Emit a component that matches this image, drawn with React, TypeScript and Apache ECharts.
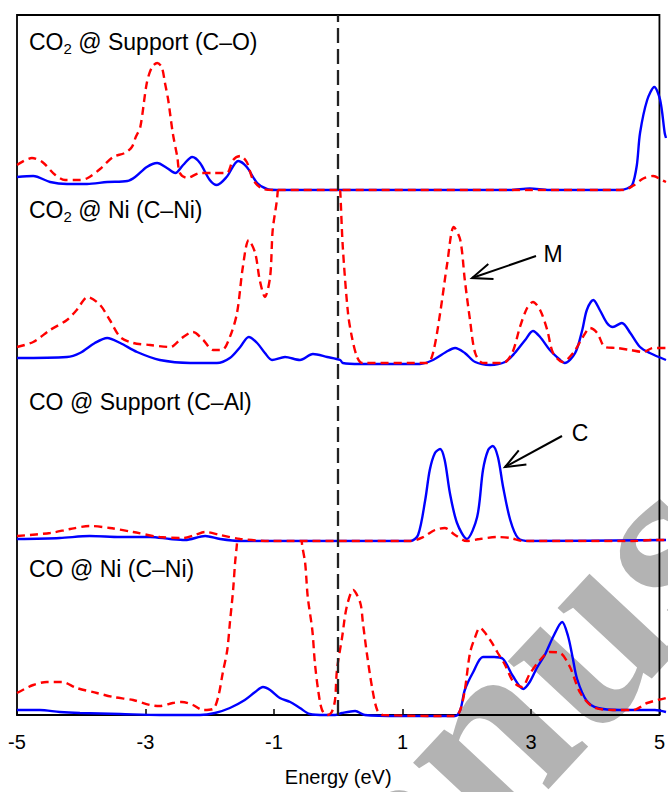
import React, { useEffect, useRef } from 'react';
import * as echarts from 'echarts';

// ---------- data (energy in eV, PDOS in arbitrary units) ----------
const energyTicks = [-5, -3, -1, 1, 3, 5];
const panelLabels = [
  'CO{s|2} @ Support (C\u2013O)',
  'CO{s|2} @ Ni (C\u2013Ni)',
  'CO @ Support (C\u2013Al)',
  'CO @ Ni (C\u2013Ni)',
];

// Panel 1: CO2 @ Support
const co2SupportC = [
  [-5, 0.27], [-4.75, 0.29], [-4.49, 0.17], [-4.23, 0.13], [-3.92, 0.13], [-3.61, 0.17],
  [-3.3, 0.19], [-3.18, 0.27], [-3.0, 0.47], [-2.84, 0.55], [-2.69, 0.45], [-2.56, 0.35],
  [-2.44, 0.51], [-2.3, 0.67], [-2.18, 0.55], [-2.03, 0.21], [-1.92, 0.11], [-1.77, 0.27],
  [-1.59, 0.59], [-1.46, 0.47], [-1.3, 0.15], [-1.15, 0.03], [-1.0, 0.01], [2.6, 0.01],
  [2.9, 0.04], [3.2, 0.01], [4.29, 0.01], [4.4, 0.04], [4.48, 0.11], [4.55, 0.5],
  [4.6, 1.15], [4.71, 1.81], [4.82, 2.07], [4.91, 1.81], [4.98, 1.15], [5.0, 1.05],
];
const co2SupportO = [
  [-5, 0.51], [-4.77, 0.65], [-4.61, 0.57], [-4.41, 0.31], [-4.26, 0.21], [-4.03, 0.21],
  [-3.91, 0.25], [-3.72, 0.43], [-3.52, 0.67], [-3.34, 0.75], [-3.23, 0.87], [-3.17, 1.07],
  [-3.1, 1.27], [-3.0, 2.15], [-2.92, 2.47], [-2.84, 2.55], [-2.77, 2.47], [-2.72, 2.15],
  [-2.67, 1.81], [-2.6, 1.15], [-2.53, 0.67], [-2.49, 0.35], [-2.38, 0.25], [-2.18, 0.35],
  [-1.98, 0.35], [-1.77, 0.35], [-1.67, 0.61], [-1.56, 0.69], [-1.46, 0.57], [-1.36, 0.21],
  [-1.21, 0.03], [-1.0, 0.01], [4.34, 0.01], [4.5, 0.1], [4.65, 0.24], [4.8, 0.29],
  [4.95, 0.2], [5.0, 0.17],
];

// Panel 2: CO2 @ Ni
const co2NiC = [
  [-5, 0.16], [-4.23, 0.18], [-4.03, 0.26], [-3.8, 0.46], [-3.61, 0.56], [-3.41, 0.46],
  [-3.15, 0.28], [-2.8, 0.12], [-2.33, 0.06], [-1.92, 0.06], [-1.72, 0.16], [-1.56, 0.38],
  [-1.43, 0.58], [-1.3, 0.46], [-1.18, 0.26], [-1.07, 0.12], [-0.87, 0.18], [-0.64, 0.12],
  [-0.44, 0.24], [-0.22, 0.18], [-0.02, 0.12], [0.02, 0.06], [0.29, 0.04], [1.21, 0.04],
  [1.41, 0.12], [1.61, 0.28], [1.75, 0.36], [1.9, 0.26], [2.06, 0.08], [2.29, 0.02],
  [2.52, 0.08], [2.67, 0.26], [2.83, 0.52], [2.95, 0.7], [3.06, 0.58], [3.21, 0.32],
  [3.37, 0.12], [3.44, 0.06], [3.6, 0.26], [3.71, 0.72], [3.78, 1.12], [3.88, 1.32],
  [3.98, 1.12], [4.09, 0.86], [4.18, 0.78], [4.32, 0.86], [4.45, 0.66], [4.6, 0.38],
  [4.75, 0.26], [5.0, 0.12],
];
const co2NiNi = [
  [-5, 0.38], [-4.75, 0.48], [-4.49, 0.72], [-4.23, 0.92], [-4.08, 1.12], [-3.91, 1.38],
  [-3.72, 1.22], [-3.57, 0.92], [-3.41, 0.58], [-3.21, 0.46], [-2.95, 0.42], [-2.64, 0.38],
  [-2.46, 0.56], [-2.29, 0.68], [-2.13, 0.52], [-1.98, 0.32], [-1.84, 0.32], [-1.72, 0.58],
  [-1.61, 1.06], [-1.52, 1.98], [-1.43, 2.52], [-1.33, 2.26], [-1.26, 1.72], [-1.18, 1.38],
  [-1.1, 1.78], [-1.06, 2.72], [-0.99, 3.38], [-0.95, 4.2], [-0.9, 4.6], [-0.1, 4.6],
  [-0.05, 4.1], [-0.02, 3.52], [0.02, 2.38], [0.1, 1.06], [0.16, 0.58], [0.24, 0.18],
  [0.32, 0.06], [1.32, 0.06], [1.41, 0.26], [1.52, 1.06], [1.63, 2.06], [1.73, 2.78],
  [1.83, 2.52], [1.9, 1.72], [1.98, 0.92], [2.06, 0.26], [2.18, 0.06], [2.49, 0.06],
  [2.63, 0.26], [2.75, 0.78], [2.86, 1.16], [2.95, 1.28], [3.06, 1.12], [3.17, 0.72],
  [3.26, 0.26], [3.41, 0.08], [3.57, 0.26], [3.72, 0.58], [3.83, 0.76], [3.94, 0.66],
  [4.06, 0.38], [4.24, 0.36], [4.45, 0.32], [4.65, 0.28], [4.8, 0.36], [5.0, 0.36],
];

// Panel 3: CO @ Support
const coSupportC = [
  [-5, 0.05], [-4.34, 0.07], [-3.88, 0.11], [-3.41, 0.09], [-2.95, 0.09], [-2.64, 0.05],
  [-2.41, 0.03], [-2.1, 0.11], [-1.87, 0.05], [-1.56, 0.01], [1.06, 0.01], [1.18, 0.13],
  [1.29, 0.83], [1.36, 1.43], [1.44, 1.77], [1.52, 1.85], [1.59, 1.63], [1.67, 0.97],
  [1.78, 0.37], [1.93, 0.05], [2.09, 0.49], [2.18, 1.43], [2.26, 1.83], [2.33, 1.91],
  [2.41, 1.69], [2.49, 1.09], [2.6, 0.43], [2.72, 0.07], [2.9, 0.01], [5.0, 0.03],
];
const coSupportAl = [
  [-5, 0.11], [-4.49, 0.17], [-4.18, 0.25], [-3.88, 0.31], [-3.57, 0.27], [-3.21, 0.19],
  [-2.8, 0.09], [-2.44, 0.07], [-2.26, 0.13], [-2.1, 0.19], [-1.87, 0.13], [-1.56, 0.05],
  [-1.1, 0.01], [1.06, 0.01], [1.26, 0.09], [1.44, 0.23], [1.59, 0.27], [1.75, 0.13],
  [1.93, 0.01], [2.13, 0.05], [2.4, 0.09], [2.6, 0.07], [2.8, 0.01], [4.5, 0.01],
  [4.8, 0.03], [5.0, 0.03],
];

// Panel 4: CO @ Ni
const coNiC = [
  [-5, 0.14], [-4.65, 0.14], [-4.34, 0.1], [-4.03, 0.08], [-3.41, 0.06], [-2.8, 0.04],
  [-2.18, 0.04], [-1.95, 0.08], [-1.72, 0.18], [-1.49, 0.34], [-1.33, 0.5], [-1.21, 0.6],
  [-1.1, 0.54], [-0.95, 0.38], [-0.79, 0.3], [-0.64, 0.18], [-0.49, 0.06], [-0.25, 0.04],
  [-0.1, 0.04], [0.01, 0.08], [0.21, 0.12], [0.36, 0.04], [0.9, 0.02], [1.75, 0.02],
  [1.83, 0.14], [1.9, 0.54], [2.03, 0.9], [2.18, 1.2], [2.35, 1.2], [2.49, 1.16],
  [2.64, 0.82], [2.8, 0.56], [2.9, 0.7], [3.01, 0.98], [3.14, 1.26], [3.26, 1.6],
  [3.4, 1.9], [3.49, 1.62], [3.56, 1.2], [3.63, 0.76], [3.78, 0.32], [3.95, 0.18],
  [4.29, 0.14], [4.6, 0.14], [4.83, 0.14], [5.0, 0.1],
];
const coNiNi = [
  [-5, 0.48], [-4.75, 0.64], [-4.54, 0.7], [-4.31, 0.7], [-4.08, 0.58], [-3.77, 0.48],
  [-3.52, 0.4], [-3.21, 0.34], [-2.95, 0.24], [-2.8, 0.22], [-2.6, 0.28], [-2.46, 0.3],
  [-2.29, 0.24], [-2.13, 0.14], [-1.98, 0.16], [-1.9, 0.4], [-1.83, 0.88], [-1.76, 1.34],
  [-1.72, 1.88], [-1.67, 2.54], [-1.64, 3.08], [-1.61, 3.48], [-1.57, 4.3], [-1.5, 4.6],
  [-0.7, 4.6], [-0.64, 4.2], [-0.61, 3.48], [-0.56, 3.08], [-0.52, 2.4], [-0.45, 1.74],
  [-0.41, 1.08], [-0.36, 0.54], [-0.3, 0.14], [-0.22, 0.04], [-0.15, 0.1], [-0.1, 0.34],
  [-0.07, 0.94], [0.01, 1.6], [0.08, 2.2], [0.18, 2.54], [0.29, 2.28], [0.33, 1.88],
  [0.39, 1.28], [0.47, 0.6], [0.55, 0.14], [0.64, 0.04], [1.75, 0.02], [1.83, 0.14],
  [1.9, 0.54], [1.98, 1.28], [2.06, 1.6], [2.13, 1.78], [2.29, 1.54], [2.4, 1.3],
  [2.52, 1.04], [2.65, 0.7], [2.78, 0.6], [2.9, 0.86], [3.06, 1.14], [3.21, 1.3],
  [3.37, 1.28], [3.52, 1.0], [3.68, 0.48], [3.88, 0.2], [4.18, 0.14], [4.49, 0.14],
  [4.71, 0.28], [5.0, 0.38],
];

const panelCarbon = [co2SupportC, co2NiC, coSupportC, coNiC];
const panelPartner = [co2SupportO, co2NiNi, coSupportAl, coNiNi];
const fermiLevel = 0;
const xRange = [-5, 5];
const yPanelMax = 3.51;

// ---------- layout ----------
const FONT = '"Liberation Sans", Arial, Helvetica, sans-serif';
const LEFT = 17;
const TOP = 15;
const WIDTH = 649;
const HEIGHT = 702;
const PANEL_H = HEIGHT / 4;
const labelPos = [[29, 42], [29, 210], [29, 402], [29, 569]];

function buildOption() {
  const grids: any[] = [
    { left: LEFT, top: TOP, width: WIDTH, height: HEIGHT, show: true, borderColor: '#000', borderWidth: 1.8, backgroundColor: 'transparent', z: 1 },
  ];
  const xAxes: any[] = [
    {
      type: 'value', gridIndex: 0, min: xRange[0], max: xRange[1],
      axisLine: { show: false },
      axisTick: { show: true, inside: true, length: 6, customValues: energyTicks, lineStyle: { color: '#000', width: 1.5 } },
      axisLabel: { customValues: energyTicks, fontSize: 20, color: '#000', fontFamily: FONT, margin: 17 },
      splitLine: { show: false },
      name: 'Energy (eV)', nameLocation: 'middle', nameGap: 52,
      nameTextStyle: { fontSize: 20, color: '#000', fontFamily: FONT },
    },
  ];
  const yAxes: any[] = [{ type: 'value', gridIndex: 0, min: 0, max: 1, show: false }];
  const series: any[] = [
    {
      type: 'line', xAxisIndex: 0, yAxisIndex: 0, data: [[fermiLevel, -1]], symbol: 'none', silent: true,
      lineStyle: { opacity: 0 },
      markLine: {
        silent: true, symbol: ['none', 'none'], label: { show: false },
        lineStyle: { color: '#222', type: [15, 6], width: 2.3 },
        data: [{ xAxis: fermiLevel }],
      },
    },
  ];
  for (let i = 0; i < 4; i++) {
    grids.push({ left: LEFT, top: TOP + i * PANEL_H, width: WIDTH, height: PANEL_H, show: false });
    xAxes.push({ type: 'value', gridIndex: i + 1, min: xRange[0], max: xRange[1], show: false });
    yAxes.push({ type: 'value', gridIndex: i + 1, min: 0, max: yPanelMax, show: false });
    series.push({
      type: 'line', xAxisIndex: i + 1, yAxisIndex: i + 1, data: panelCarbon[i],
      symbol: 'none', smooth: 0.3, clip: true, z: 3,
      lineStyle: { color: '#0000ff', width: 2.4 },
    });
    series.push({
      type: 'line', xAxisIndex: i + 1, yAxisIndex: i + 1, data: panelPartner[i],
      symbol: 'none', smooth: 0.3, clip: true, z: 4,
      lineStyle: { color: '#ff0000', width: 2.4, type: [8, 5] },
    });
  }

  const graphic: any[] = [
    {
      type: 'text', x: 180, y: 1058, rotation: (47 * Math.PI) / 180, z: -1, silent: true,
      style: {
        text: 'Manuscript', fontSize: 255, fontWeight: 'bold', fontFamily: '"Liberation Serif", "DejaVu Serif", serif',
        fill: '#b3b3b3', align: 'left', verticalAlign: 'middle', textAlign: 'left', textVerticalAlign: 'middle',
      },
    },
  ];
  panelLabels.forEach((t, i) => {
    graphic.push({
      type: 'text', x: labelPos[i][0], y: labelPos[i][1], z: 10, silent: true,
      style: {
        text: t, fontSize: 23, fontFamily: FONT, fill: '#000', lineHeight: 28,
        align: 'left', verticalAlign: 'middle', textAlign: 'left', textVerticalAlign: 'middle',
        rich: { s: { fontSize: 15, lineHeight: 16, verticalAlign: 'bottom', fontFamily: FONT, fill: '#000' } },
      },
    });
  });
  // annotations
  const arrow = (tail: number[], tip: number[], label: string, lp: number[]) => {
    const dx = tip[0] - tail[0];
    const dy = tip[1] - tail[1];
    const len = Math.hypot(dx, dy);
    const ux = dx / len, uy = dy / len;
    const px = -uy, py = ux;
    const bx = tip[0] - 20 * ux, by = tip[1] - 20 * uy;
    graphic.push({ type: 'line', z: 10, silent: true, shape: { x1: tail[0], y1: tail[1], x2: tip[0], y2: tip[1] }, style: { stroke: '#000', lineWidth: 2 } });
    graphic.push({
      type: 'polyline', z: 10, silent: true,
      shape: { points: [[bx + 8 * px, by + 8 * py], tip, [bx - 8 * px, by - 8 * py]] },
      style: { stroke: '#000', lineWidth: 2, fill: 'none' },
    });
    graphic.push({
      type: 'text', x: lp[0], y: lp[1], z: 10, silent: true,
      style: { text: label, fontSize: 23, fontFamily: FONT, fill: '#000', align: 'center', verticalAlign: 'middle', textAlign: 'center', textVerticalAlign: 'middle' },
    });
  };
  arrow([536, 256], [472, 278], 'M', [553, 254]);
  arrow([562, 436], [505, 467], 'C', [580, 433]);

  return {
    animation: false,
    backgroundColor: '#fff',
    grid: grids,
    xAxis: xAxes,
    yAxis: yAxes,
    series,
    graphic,
  };
}

export default function App() {
  const ref = useRef<HTMLDivElement>(null);
  useEffect(() => {
    if (!ref.current) return;
    const chart = echarts.init(ref.current, undefined, { renderer: 'svg' });
    chart.setOption(buildOption() as any);
    return () => chart.dispose();
  }, []);
  return <div ref={ref} style={{ position: 'fixed', left: 0, top: 0, width: 668, height: 792 }} />;
}
